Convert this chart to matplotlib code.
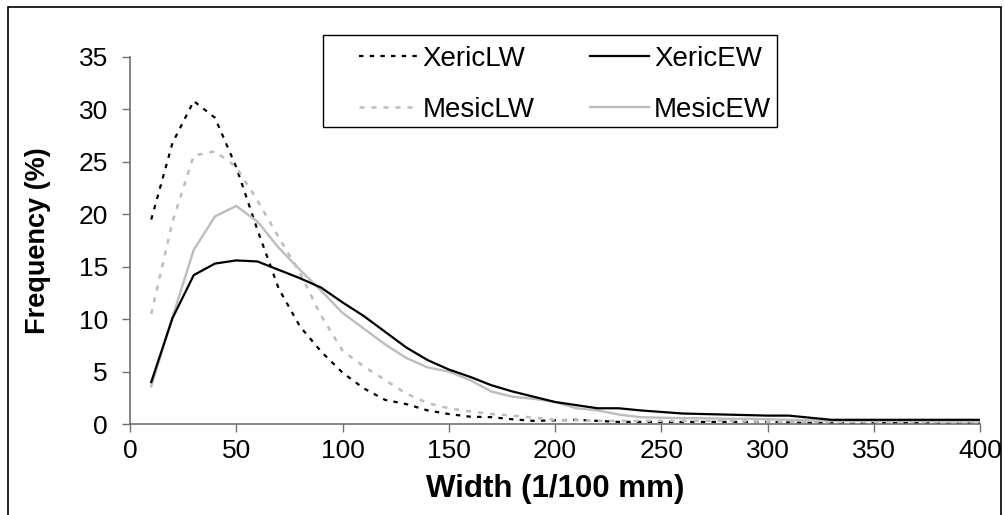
import matplotlib
matplotlib.use("Agg")
import matplotlib.pyplot as plt
from matplotlib.patches import Rectangle

width = [10, 20, 30, 40, 50, 60, 70, 80, 90, 100,
         110, 120, 130, 140, 150, 160, 170, 180, 190, 200,
         210, 220, 230, 240, 250, 260, 270, 280, 290, 300,
         310, 320, 330, 340, 350, 360, 370, 380, 390, 400]

xeric_lw = [19.5, 26.8, 30.8, 29.2, 24.5, 18.5, 12.9, 9.3, 6.9, 4.9,
            3.4, 2.3, 1.9, 1.3, 0.95, 0.7, 0.65, 0.45, 0.3, 0.35,
            0.4, 0.3, 0.2, 0.2, 0.2, 0.2, 0.2, 0.2, 0.2, 0.2,
            0.15, 0.1, 0.1, 0.1, 0.1, 0.1, 0.1, 0.1, 0.1, 0.1]

mesic_lw = [10.5, 19.3, 25.6, 26.0, 24.5, 21.3, 17.8, 14.4, 10.3, 7.0,
            5.5, 4.2, 2.9, 2.0, 1.5, 1.2, 0.95, 0.8, 0.6, 0.4,
            0.35, 0.3, 0.3, 0.3, 0.3, 0.3, 0.3, 0.3, 0.25, 0.2,
            0.2, 0.2, 0.2, 0.2, 0.2, 0.2, 0.2, 0.2, 0.2, 0.2]

xeric_ew = [4.0, 10.1, 14.2, 15.3, 15.6, 15.5, 14.7, 13.9, 13.0, 11.6,
            10.3, 8.8, 7.3, 6.1, 5.2, 4.5, 3.7, 3.1, 2.6, 2.1,
            1.8, 1.5, 1.5, 1.3, 1.15, 1.0, 0.95, 0.9, 0.85, 0.8,
            0.8, 0.6, 0.4, 0.4, 0.4, 0.4, 0.4, 0.4, 0.4, 0.4]

mesic_ew = [3.6, 10.2, 16.6, 19.8, 20.8, 19.3, 16.8, 14.7, 12.7, 10.6,
            9.1, 7.6, 6.3, 5.4, 5.0, 4.2, 3.1, 2.6, 2.4, 2.1,
            1.5, 1.3, 0.9, 0.65, 0.6, 0.55, 0.55, 0.5, 0.5, 0.45,
            0.4, 0.35, 0.3, 0.3, 0.3, 0.3, 0.3, 0.25, 0.25, 0.25]

series_labels = ["XericLW", "XericEW", "MesicLW", "MesicEW"]
x_ticks = [0, 50, 100, 150, 200, 250, 300, 350, 400]
y_ticks = [0, 5, 10, 15, 20, 25, 30, 35]

plt.rcParams['font.family'] = ['Liberation Sans', 'DejaVu Sans']

W, H = 1005, 515
fig = plt.figure(figsize=(W / 100, H / 100), dpi=100)
ax = fig.add_axes([130 / W, 1 - 424 / H, 850 / W, 367 / H])

gray = "#BDBDBD"
l_xlw, = ax.plot(width, xeric_lw, color="black", lw=1.6, ls=(0, (2.0, 2.8)))
l_mlw, = ax.plot(width, mesic_lw, color=gray, lw=1.8, ls=(0, (2.0, 2.8)))
l_mew, = ax.plot(width, mesic_ew, color=gray, lw=1.7)
l_xew, = ax.plot(width, xeric_ew, color="black", lw=1.6)

ax.set_xlim(0, 400)
ax.set_ylim(0, 35)
ax.set_xticks(x_ticks)
ax.set_yticks(y_ticks)
ax.tick_params(axis='both', direction='out', length=6, width=1, color='#707070',
               labelsize=19)
ax.tick_params(axis='y', pad=10)
ax.tick_params(axis='x', pad=5)
for s in ['top', 'right']:
    ax.spines[s].set_visible(False)
for s in ['left', 'bottom']:
    ax.spines[s].set_color('#707070')
    ax.spines[s].set_linewidth(1.2)

ax.set_xlabel("Width (1/100 mm)", fontsize=22.5, fontweight='bold', labelpad=8)
ax.set_ylabel("Frequency (%)", fontsize=19.5, fontweight='bold', labelpad=20)

# legend box
fig.add_artist(Rectangle((323 / W, 1 - 127 / H), 454 / W, 92 / H,
                         transform=fig.transFigure, fill=False,
                         edgecolor='black', lw=1))
handles = [l_xlw, l_mlw, l_xew, l_mew]
labels = [series_labels[0], series_labels[2], series_labels[1], series_labels[3]]
leg = fig.legend(handles, labels, loc='center', bbox_to_anchor=(565 / W, 1 - 84 / H),
                 ncol=2, frameon=False, fontsize=20, handlelength=2.1,
                 handletextpad=0.2, columnspacing=2.0, labelspacing=0.9,
                 borderpad=0)

# outer frame
fig.add_artist(Rectangle((8 / W, -0.01), 993 / W, 1 - 7 / H + 0.01,
                         transform=fig.transFigure, fill=False,
                         edgecolor='black', lw=1.2))

fig.savefig("out.png", dpi=100)
